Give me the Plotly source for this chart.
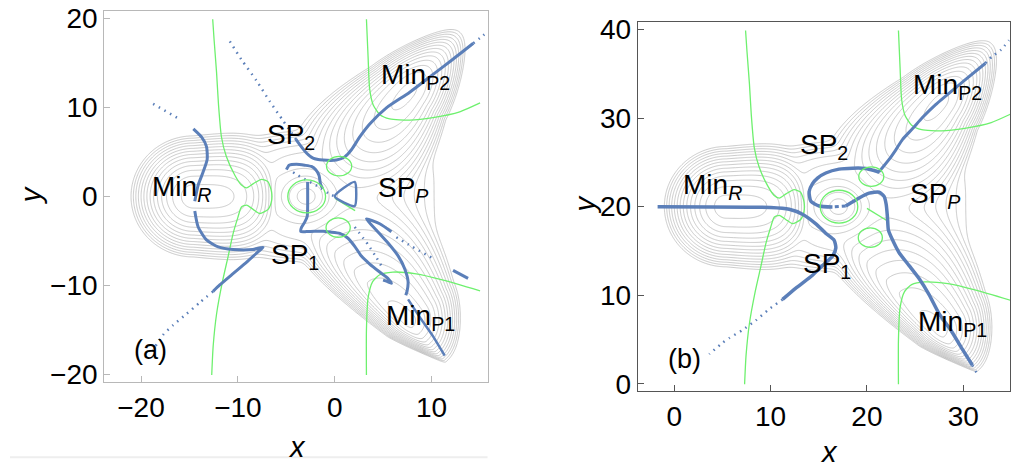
import numpy as np
import plotly.graph_objects as go

# ---------------- surface model (panel (a) coordinates) ----------------
# three wells: R, P2, P1  (u = along axis, positive outward)
well_cx = [-14.6, 7.5, 7.4]
well_cy = [0.0, 11.7, -14.0]
well_angle = [180.0, 52.0, -48.3]
well_a_out = [1.75, 2.37, 1.68]
well_p_out = [2.0, 2.0, 2.0]
well_a_in = [5.0, 4.4, 5.2]
well_p_in = [4.0, 2.0, 2.0]
well_b_pos = [1.85, 1.3, 1.8]
well_b_pos_fan = [0.028, 0.09, 0.14]
well_b_pos_taper = [0.0, 0.06, 0.1]
well_b_neg = [1.85, 1.38, 0.72]
well_b_neg_fan = [0.028, 0.12, 0.045]
well_b_neg_taper = [0.0, 0.06, 0.08]
well_E = [0.0, 0.2, 0.2]
# central basin
bowl_x, bowl_y, bowl_E = -2.5, 0.0, 7.0
bowl_rx_west, bowl_rx_east, bowl_ry = 4.0, 5.0, 4.6
# central hill
bump_x, bump_y, bump_h, bump_s = -2.9, 0.0, 5.0, 1.9
softmin_T = 0.8
level_start, level_end, level_step = 0.5, 13.5, 1.0

grid_x = np.linspace(-24.5, 16.5, 411)
grid_y = np.linspace(-21.5, 21.5, 431)

# ---------------- panel (a) curves ----------------
a_nt1_x = [14.3, 12.2, 10.15, 7.74, 5.33, 3.61, 2.58, 1.72, 1.03, 0.17, -1.2, -2.24, -2.92, -3.6, -4.0]
a_nt1_y = [17.2, 15.4, 13.7, 11.7, 9.94, 8.13, 6.68, 5.24, 4.44, 4.08, 4.08, 4.3, 4.88, 5.78, 6.4]
a_nt1d_x = [-4.0, -5.33, -6.7, -8.08, -9.63, -11.0]
a_nt1d_y = [6.4, 8.49, 10.66, 13.0, 15.36, 17.7]
a_nt1t_x = [14.3, 15.0, 15.8]
a_nt1t_y = [17.2, 17.8, 18.5]
a_nt2d_x = [-18.75, -16.0]
a_nt2d_y = [10.4, 8.67]
a_nt3_x = [-14.6, -13.76, -13.24, -13.17, -13.6, -14.1, -14.45]
a_nt3_y = [7.59, 6.68, 5.6, 4.16, 2.7, 1.26, -0.54]
a_nt4_x = [-14.45, -14.1, -13.24, -12.04, -10.5, -8.43, -7.4, -7.9, -9.12, -10.5, -11.87, -12.56]
a_nt4_y = [-1.63, -3.43, -4.88, -5.67, -5.96, -5.96, -5.71, -6.2, -7.41, -8.67, -9.94, -10.66]
a_nt4d_x = [-12.56, -13.93, -15.3, -16.68, -17.72, -18.9]
a_nt4d_y = [-10.66, -11.92, -13.19, -14.45, -15.54, -17.5]
a_nt5_x = [-4.99, -4.71, -3.96, -3.1, -2.41, -1.96, -1.62, -1.48, -1.27]
a_nt5_y = [3.0, 3.5, 3.61, 3.5, 3.36, 3.0, 2.35, 1.44, 0.9]
a_nt6_x = [-2.8, -2.8, -2.85, -3.1, -3.44, -3.5, -2.92, -2.06, -1.2, -0.5, 0.52, 1.37, 2.06, 2.75, 3.61, 4.64, 5.5, 5.85, 5.4, 4.99]
a_nt6_y = [1.63, -1.27, -2.28, -2.89, -3.5, -3.95, -3.95, -3.92, -3.92, -4.0, -4.15, -4.7, -5.6, -6.7, -7.59, -8.49, -9.21, -9.76, -9.55, -9.4]
a_nt7_x = [5.85, 4.64, 3.27, 4.3, 5.5, 6.54, 7.22, 7.57, 7.46, 7.33]
a_nt7_y = [-3.97, -3.07, -2.53, -3.79, -5.24, -6.68, -8.13, -9.58, -10.66, -11.09]
a_nt8_x = [7.57, 8.77, 10.15, 11.35]
a_nt8_y = [-11.56, -13.55, -15.72, -17.89]
a_d9_x = [2.06, 3.44, 4.3, 4.99]
a_d9_y = [-3.43, -5.42, -6.87, -8.13]
a_d10_x = [6.36, 7.91, 10.15]
a_d10_y = [-4.59, -5.6, -6.97]
a_dash11_x = [12.21, 13.76]
a_dash11_y = [-8.31, -9.21]
a_tri_x = [0.0, 2.06, 2.06, 0.0]
a_tri_y = [0.0, 1.63, -1.08, 0.0]
a_d12_x = [-4.3, -3.78, -1.38, -0.69, 0.0]
a_d12_y = [2.71, 2.35, 0.9, 0.36, 0.0]

# ---------------- panel (b) curves ----------------
b_nt1_x = [-1.73, 10.0, 11.93, 13.3, 14.7, 15.74, 16.6, 16.77, 16.42, 15.38, 14.35, 12.62, 11.24]
b_nt1_y = [20.0, 19.9, 19.7, 19.15, 18.06, 16.97, 16.2, 15.33, 14.4, 13.34, 12.25, 10.8, 9.52]
b_nt1d_x = [11.24, 9.85, 8.47, 7.09, 5.7, 5.0, 3.63]
b_nt1d_y = [9.52, 8.43, 7.16, 6.07, 5.15, 4.61, 3.34]
b_nt2_x = [16.42, 15.04, 14.18, 14.0, 14.35, 14.87, 15.73, 17.1, 18.5, 19.88, 20.75, 21.27]
b_nt2_y = [19.96, 20.07, 20.6, 21.7, 22.6, 23.23, 23.8, 24.24, 24.35, 24.32, 24.07, 23.88]
b_nt2d_x = [17.8, 16.42]
b_nt2d_y = [20.07, 19.96]
b_nt3_x = [20.75, 21.27, 21.6, 22.3, 23.0, 23.7, 24.72, 25.76, 27.1, 29.9, 32.3]
b_nt3_y = [24.07, 24.0, 24.4, 25.33, 26.42, 27.6, 28.79, 30.06, 31.5, 34.06, 36.2]
b_nt3d_x = [32.3, 33.0, 33.9, 34.75]
b_nt3d_y = [36.2, 36.97, 37.7, 38.8]
b_nt4_x = [17.8, 19.19, 20.23, 21.27, 21.78, 22.0, 22.13, 22.23, 22.65, 23.34, 24.38, 25.41, 26.45, 27.5, 28.7, 29.9, 30.95]
b_nt4_y = [20.07, 20.97, 21.52, 21.63, 21.16, 20.25, 18.79, 17.34, 16.25, 14.8, 13.34, 11.89, 10.07, 7.89, 6.07, 3.9, 2.08]
b_nt4d_x = [30.95, 31.5]
b_nt4d_y = [2.08, 1.0]

# ---------------- green curves (panel (a) coordinates, shared) ----------------
g1_x = [-12.6, -12.45, -12.2, -12.0, -11.7, -11.2, -10.3, -9.63, -9.1, -8.4, -7.56, -6.88, -6.53, -6.53, -6.88, -7.74, -8.43, -9.1, -9.63, -10.0, -10.5, -11.0, -11.6, -12.2, -12.55, -12.7]
g1_y = [19.9, 17.5, 13.9, 10.3, 6.7, 4.5, 2.35, 1.27, 0.97, 1.44, 1.92, 1.63, 0.54, -0.54, -1.45, -1.92, -1.45, -0.98, -1.19, -2.35, -4.2, -6.7, -9.6, -13.2, -16.8, -20.05]
g2_x = [3.27, 3.44, 3.6, 3.96, 4.64, 5.68, 7.74, 10.15, 12.9, 15.0]
g2_y = [19.9, 15.7, 12.1, 10.3, 9.2, 8.7, 8.56, 8.85, 9.5, 10.5]
g3_x = [3.27, 3.27, 3.44, 3.9, 4.64, 6.0, 8.4, 11.2, 15.0]
g3_y = [-20.05, -15.0, -11.4, -9.6, -8.8, -8.5, -8.7, -9.4, -10.6]
gs_x = [0.0, 2.1]
gs_y = [-0.2, -1.6]
gell_cx = [-2.9, 0.45, 0.35]
gell_cy = [0.0, 3.4, -3.5]
gell_rx = [1.95, 1.3, 1.25]
gell_ry = [1.85, 1.1, 1.1]

panel_dx = [0.0, 20.0]
panel_dy = [0.0, 20.0]

a_xticks = [-20, -10, 0, 10]
a_yticks = [-20, -10, 0, 10, 20]
b_xticks = [0, 10, 20, 30]
b_yticks = [0, 10, 20, 30, 40]

label_text = ["Min<sub><i>R</i></sub>", "SP<sub>2</sub>", "SP<sub><i>P</i></sub>", "SP<sub>1</sub>",
              "Min<sub>P2</sub>", "Min<sub>P1</sub>"]
a_label_x = [-15.8, -4.5, 7.05, -4.06, 8.3, 8.9]
a_label_y = [0.9, 6.7, 0.8, -6.8, 13.5, -13.6]
b_label_x = [3.98, 15.5, 27.1, 15.9, 28.4, 28.9]
b_label_y = [22.3, 26.8, 21.3, 13.4, 33.6, 6.8]
panel_tag = ["(a)", "(b)"]
tag_x = [-19.0, 1.04]
tag_y = [-17.3, 2.8]

# ---------------- build surface ----------------
X, Y = np.meshgrid(grid_x, grid_y)
terms = []
for i in range(3):
    th = np.deg2rad(well_angle[i])
    dx = X - well_cx[i]
    dy = Y - well_cy[i]
    u = dx * np.cos(th) + dy * np.sin(th)
    v = -dx * np.sin(th) + dy * np.cos(th)
    uin = np.maximum(-u, 0)
    uout = np.maximum(u, 0)
    fu = np.where(u > 0, (uout / well_a_out[i]) ** well_p_out[i], (uin / well_a_in[i]) ** well_p_in[i])
    bp = well_b_pos[i] + well_b_pos_fan[i] * uin - well_b_pos_taper[i] * uout
    bn = well_b_neg[i] + well_b_neg_fan[i] * uin - well_b_neg_taper[i] * uout
    bb = np.maximum(np.where(v > 0, bp, bn), 0.2)
    terms.append(fu + (v / bb) ** 2 + well_E[i])
bdx = X - bowl_x
brx = np.where(bdx > 0, bowl_rx_east, bowl_rx_west)
terms.append(bowl_E + (bdx / brx) ** 2 + (np.abs(Y - bowl_y) / bowl_ry) ** 4)
terms = np.array(terms)
m = terms.min(axis=0)
Z = m - softmin_T * np.log(np.exp(-(terms - m) / softmin_T).sum(axis=0))
Z = Z + bump_h * np.exp(-((X - bump_x) ** 2 + (Y - bump_y) ** 2) / (2 * bump_s ** 2))
Z = np.round(np.minimum(Z, 40), 3)

BLUE = "#5b7fb9"
GREEN = "#6ef06e"
GRAY = "#b4b4b4"

fig = go.Figure()
axes = [("x", "y"), ("x2", "y2")]

def line(xa, ya, xr, yr, width, color=BLUE, dash=None):
    fig.add_trace(go.Scatter(x=xa, y=ya, xaxis=xr, yaxis=yr, mode="lines",
                             line=dict(color=color, width=width, dash=dash, shape="spline", smoothing=0.6),
                             hoverinfo="skip", showlegend=False))

for p in range(2):
    xr, yr = axes[p]
    ox, oy = panel_dx[p], panel_dy[p]
    fig.add_trace(go.Contour(x=grid_x + ox, y=grid_y + oy, z=Z, xaxis=xr, yaxis=yr,
                             contours=dict(start=level_start, end=level_end, size=level_step, coloring="lines"),
                             colorscale=[[0, GRAY], [1, GRAY]], line=dict(width=0.7, smoothing=1.0),
                             showscale=False, hoverinfo="skip"))
    for gx, gy in [(g1_x, g1_y), (g2_x, g2_y), (g3_x, g3_y), (gs_x, gs_y)]:
        line([v + ox for v in gx], [v + oy for v in gy], xr, yr, 1.3, GREEN)
    for cx, cy, rx, ry in zip(gell_cx, gell_cy, gell_rx, gell_ry):
        fig.add_shape(type="circle", xref=xr, yref=yr, x0=cx - rx + ox, x1=cx + rx + ox,
                      y0=cy - ry + oy, y1=cy + ry + oy, line=dict(color=GREEN, width=1.3), layer="above")

DOT = "1.5px,5px"
line(a_nt1_x, a_nt1_y, "x", "y", 3)
line(a_nt1d_x, a_nt1d_y, "x", "y", 2.5, dash=DOT)
line(a_nt1t_x, a_nt1t_y, "x", "y", 2.5, dash=DOT)
line(a_nt2d_x, a_nt2d_y, "x", "y", 2.5, dash=DOT)
line(a_nt3_x, a_nt3_y, "x", "y", 3)
line(a_nt4_x, a_nt4_y, "x", "y", 3)
line(a_nt4d_x, a_nt4d_y, "x", "y", 2.5, dash=DOT)
line(a_nt5_x, a_nt5_y, "x", "y", 3)
line(a_nt6_x, a_nt6_y, "x", "y", 3)
line(a_nt7_x, a_nt7_y, "x", "y", 3)
line(a_nt8_x, a_nt8_y, "x", "y", 2.5)
line(a_d9_x, a_d9_y, "x", "y", 2.5, dash=DOT)
line(a_d10_x, a_d10_y, "x", "y", 2.5, dash=DOT)
line(a_dash11_x, a_dash11_y, "x", "y", 3)
line(a_tri_x, a_tri_y, "x", "y", 2.5)
line(a_d12_x, a_d12_y, "x", "y", 2.5, dash=DOT)
line(b_nt1_x, b_nt1_y, "x2", "y2", 3.5)
line(b_nt1d_x, b_nt1d_y, "x2", "y2", 2.5, dash=DOT)
line(b_nt2_x, b_nt2_y, "x2", "y2", 3.5)
line(b_nt2d_x, b_nt2d_y, "x2", "y2", 3, dash="4px,3px")
line(b_nt3_x, b_nt3_y, "x2", "y2", 3)
line(b_nt3d_x, b_nt3d_y, "x2", "y2", 2.5, dash=DOT)
line(b_nt4_x, b_nt4_y, "x2", "y2", 3.5)
line(b_nt4d_x, b_nt4d_y, "x2", "y2", 2.5, dash=DOT)

FONT = "Liberation Sans, Arial, sans-serif"
ann = []
for p, (lx, ly) in enumerate([(a_label_x, a_label_y), (b_label_x, b_label_y)]):
    xr, yr = axes[p]
    for t, x, y in zip(label_text, lx, ly):
        ann.append(dict(text=t, x=x, y=y, xref=xr, yref=yr, showarrow=False,
                        xanchor="center", yanchor="middle",
                        font=dict(size=28, color="black", family=FONT)))
    ann.append(dict(text=panel_tag[p], x=tag_x[p], y=tag_y[p], xref=xr, yref=yr, showarrow=False,
                    xanchor="center", yanchor="middle",
                    font=dict(size=27, color="black", family=FONT)))
for t, x, y, ang in [("x", 297, 455, 0), ("y", 31, 194, -90), ("x", 830, 460, 0), ("y", 586, 203, -90)]:
    ann.append(dict(text="<i>%s</i>" % t, x=x / 1011, y=1 - y / 469, xref="paper", yref="paper",
                    xanchor="center", yanchor="middle",
                    showarrow=False, textangle=ang, font=dict(size=29, color="black", family=FONT)))

def fmt(v):
    return ("\u2212%d" % -v) if v < 0 else "%d" % v

def axis(dom, rng, ticks, col, anchor):
    return dict(domain=dom, range=rng, tickvals=ticks, ticktext=[fmt(t) for t in ticks],
                showline=True, mirror=True, linecolor=col, linewidth=1, ticks="inside", ticklen=6,
                tickcolor=col, showgrid=False, zeroline=False, anchor=anchor,
                tickfont=dict(size=28, color="black", family=FONT))

fig.update_layout(
    width=1011, height=469, margin=dict(l=0, r=0, t=0, b=0),
    paper_bgcolor="white", plot_bgcolor="white", showlegend=False,
    xaxis=axis([104.3 / 1011, 488.3 / 1011], [-23.8, 15.8], a_xticks, "#b8b8b8", "y"),
    yaxis=axis([1 - 387.3 / 469, 1 - 3.3 / 469], [-20.85, 20.8], a_yticks, "#b8b8b8", "x"),
    xaxis2=axis([638.3 / 1011, 1.0], [-3.8, 34.85], b_xticks, "#555555", "y2"),
    yaxis2=axis([1 - 396.7 / 469, 1 - 15 / 469], [-0.84, 40.8], b_yticks, "#555555", "x2"),
    annotations=ann,
)
fig.add_shape(type="line", xref="paper", yref="paper", x0=10 / 1011, x1=488 / 1011,
              y0=1 - 465 / 469, y1=1 - 465 / 469, line=dict(color="#eeeeee", width=2))
fig.write_html("out.html")
